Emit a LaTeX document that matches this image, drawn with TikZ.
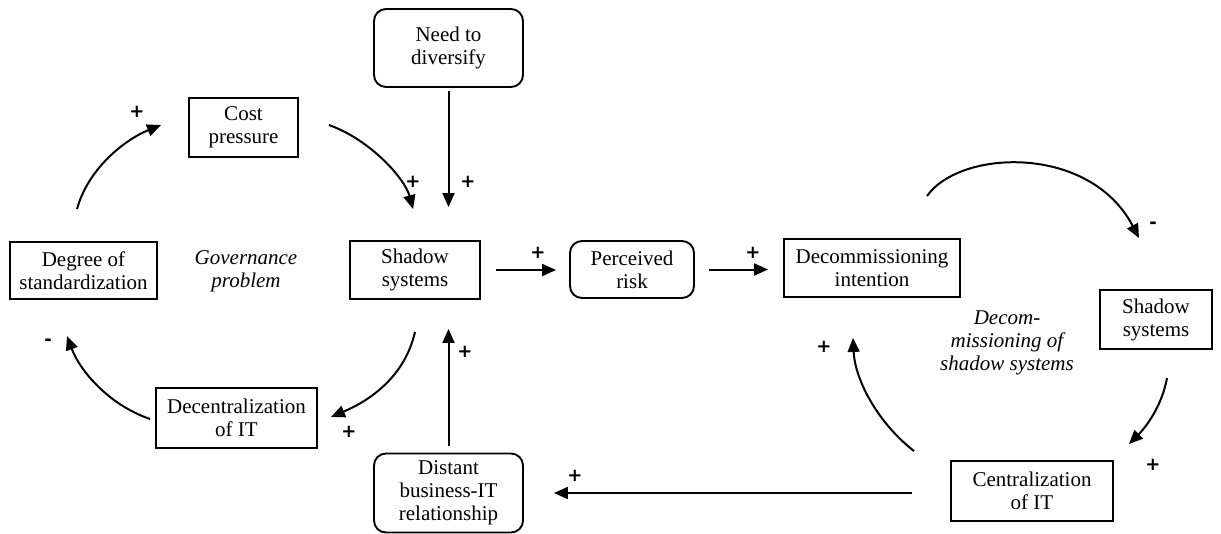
\documentclass[tikz,border=0pt]{standalone}
\usepackage{fontspec}
\setmainfont{Liberation Serif}
\newfontfamily\signfont{DejaVu Sans}
\usetikzlibrary{arrows.meta}
\begin{document}
\begin{tikzpicture}[x=1pt,y=-1pt,
  box/.style={draw, line width=1.9pt, align=center, inner sep=0pt,
    font=\fontsize{21}{23}\selectfont},
  rbox/.style={box, rounded corners=12pt},
  lbl/.style={align=center, font=\fontsize{21}{23}\selectfont\itshape},
  arr/.style={line width=2pt, -{Triangle[length=14pt,width=12pt]}},
  sign/.style={font=\signfont\bfseries\fontsize{18}{18}\selectfont, inner sep=0pt}]
\useasboundingbox (0,0) rectangle (1221,533);

% nodes
\node[rbox, minimum width=149pt, minimum height=78pt] (need) at (448.5,48) {Need to\\diversify};
\node[box, minimum width=109pt, minimum height=59pt] (cost) at (243.5,127.5) {Cost\\pressure};
\node[box, minimum width=147pt, minimum height=57pt] (degree) at (83.5,270.5) {Degree of\\standardization};
\node[box, minimum width=130pt, minimum height=58pt] (shadowL) at (415,270) {Shadow\\systems};
\node[rbox, minimum width=124pt, minimum height=57pt] (risk) at (632,269.5) {Perceived\\risk};
\node[box, minimum width=176pt, minimum height=58pt] (decomm) at (872,268) {Decommissioning\\intention};
\node[box, minimum width=112pt, minimum height=59pt] (shadowR) at (1156,319.5) {Shadow\\systems};
\node[box, minimum width=162pt, minimum height=60pt] (central) at (1032,491) {Centralization\\of IT};
\node[rbox, minimum width=149pt, minimum height=79pt] (distant) at (448.5,493) {Distant\\business-IT\\relationship};
\node[box, minimum width=161pt, minimum height=60pt] (decent) at (236.5,418) {Decentralization\\of IT};

\node[lbl] (gov) at (246,271) {Governance\\problem};
\node[lbl] (decomtxt) at (1007,343) {Decom-\\missioning of\\shadow systems};

% connectors
\draw[arr] ([shift={(0,3)}]need.south) -- ([shift={(33.5,-33)}]shadowL.north);
\draw[arr] ([shift={(30,-2.5)}]cost.east) .. controls +(42,15) and +(-8,-30) .. ([shift={(-2,-31)}]shadowL.north);
\draw[arr] ([shift={(-6.5,-32)}]degree.north) .. controls +(11,-40) and +(-37,15) .. ([shift={(-27,-2.5)}]cost.west);
\draw[arr] ([shift={(15,0)}]shadowL.east) -- ([shift={(-13,0.5)}]risk.west);
\draw[arr] ([shift={(14,0)}]risk.east) -- ([shift={(-15,1.5)}]decomm.west);
\draw[arr] ([shift={(55,-42)}]decomm.north) .. controls +(33,-47) and +(-49,-94) .. ([shift={(-17,-51)}]shadowR.north);
\draw[arr] ([shift={(11,28)}]shadowR.south) .. controls +(-5,28) and +(17,-17) .. ([shift={(15,-16)}]central.north east);
\draw[arr] ([shift={(-36,-9)}]central.north west) .. controls +(-35,-27) and +(2,43) .. ([shift={(-19,40)}]decomm.south);
\draw[arr] ([shift={(-38,2)}]central.west) -- ([shift={(30,0)}]distant.east);
\draw[arr] ([shift={(0,-6.5)}]distant.north) -- ([shift={(33.5,29)}]shadowL.south);
\draw[arr] ([shift={(0,32)}]shadowL.south) .. controls +(-10,44) and +(40,-17) .. ([shift={(13,-1)}]decent.east);
\draw[arr] ([shift={(-5,1)}]decent.west) .. controls +(-41,-14) and +(13,35) .. ([shift={(-16.5,36)}]degree.south);

% polarity signs
\node[sign] (s1) at (137,112) {+};
\node[sign] (s2) at (413,182) {+};
\node[sign] (s3) at (468,182) {+};
\node[sign] (s4) at (538,253) {+};
\node[sign] (s5) at (753,253) {+};
\node[sign] (s6) at (1153,225) {-};
\node[sign] (s7) at (1153,465) {+};
\node[sign] (s8) at (824,347) {+};
\node[sign] (s9) at (575,476) {+};
\node[sign] (s10) at (465,352) {+};
\node[sign] (s11) at (349,432) {+};
\node[sign] (s12) at (48,342) {-};
\end{tikzpicture}
\end{document}
